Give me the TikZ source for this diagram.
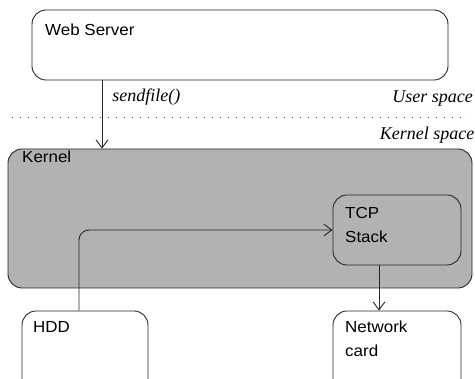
\documentclass[tikz,border=0pt]{standalone}
\usepackage{fontspec}
\setmainfont{Liberation Serif}
\setsansfont[FakeStretch=1.06]{Liberation Sans}
\usetikzlibrary{arrows.meta}
\tikzset{
  box/.style={draw=black!85, line width=0.9pt, rounded corners=14pt, inner sep=0pt},
  boxtext/.style={font=\sffamily\fontsize{16}{24}\selectfont, anchor=base west, inner sep=0pt},
  note/.style={font=\itshape\fontsize{18}{20}\selectfont, inner sep=0pt},
  flow/.style={draw=black!85, line width=0.9pt, -{Straight Barb[length=8pt,width=12pt,line width=0.9pt]}},
}
% two-line caption whose baseline is the first line
\newcommand{\twolines}[2]{\vtop{\hbox{#1}\hbox{#2}}}
\begin{document}
\begin{tikzpicture}[x=1pt, y=-1pt]
  \useasboundingbox (0,0) rectangle (475,379);
  \clip (0,0) rectangle (475,379);

  % boxes
  \node[box, minimum width=416pt, minimum height=70pt] (web) at (240,45) {};
  \node[box, fill=black!30, minimum width=464pt, minimum height=139pt] (kernel) at (240,218.5) {};
  \node[box, minimum width=128pt, minimum height=70pt] (tcp) at (397,230) {};
  \node[box, minimum width=126pt, minimum height=90pt] (hdd) at (85,356) {};
  \node[box, minimum width=128pt, minimum height=90pt] (nic) at (397,356) {};

  % box captions
  \node[boxtext] (webtxt) at (45,36) {Web Server};
  \node[boxtext] (kerneltxt) at (22,163) {Kernel};
  \node[boxtext] (tcptxt) at (345,219) {\twolines{TCP}{Stack}};
  \node[boxtext] (hddtxt) at (33,333) {HDD};
  \node[boxtext] (nictxt) at (345,333) {\twolines{Network}{card}};

  % user/kernel boundary
  \coordinate (sepL) at (12,117);
  \coordinate (sepR) at (468,117);
  \draw[black!80, line width=0.8pt, dash pattern=on 0.8pt off 7.2pt] (sepL) -- (sepR);
  \node[note, anchor=base east] (user) at (473,103) {User space};
  \node[note, anchor=base east] (kspace) at (474.5,140) {Kernel space};

  % data path
  \draw[flow] (web.south -| 102,0) -- node[note, anchor=base west, pos=0.32, xshift=10pt, yshift=1pt] (sf) {sendfile()} (kernel.north -| 102,0);
  \draw[flow, rounded corners=10pt] (hdd.north -| 79,0) |- (tcp.west);
  \draw[flow] (tcp.south -| 379,0) -- (nic.north -| 379,0);
\end{tikzpicture}
\end{document}
